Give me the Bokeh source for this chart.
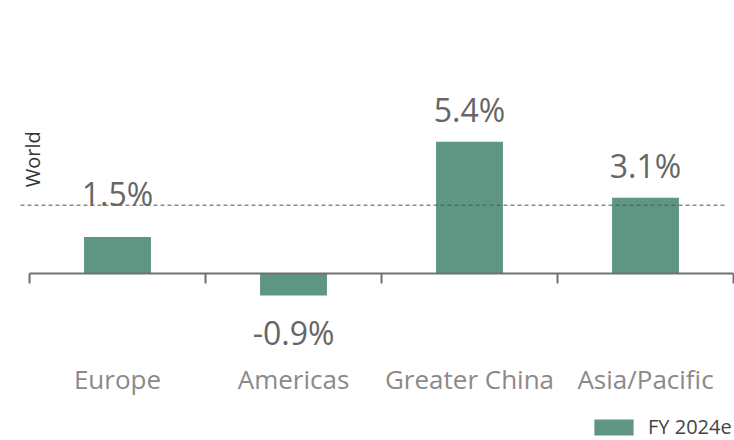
import math
from bokeh.plotting import figure
from bokeh.models import Range1d, ColumnDataSource, Legend, LegendItem
from bokeh.core.properties import value
from bokeh.embed import file_html
from bokeh.resources import INLINE

# ---- data ----
categories = ["Europe", "Americas", "Greater China", "Asia/Pacific"]
growth = [1.5, -0.9, 5.4, 3.1]
world = 2.8
series_name = "FY 2024e"

# ---- layout constants ----
W, H = 734, 440
LEFT = 29          # px where the first category starts
CAT_PX = 176       # px per category
BASE_PX = 273      # px of zero line
PX_PER = 24.4      # px per percentage point

bar_color = "#5E9683"
font = value("Open Sans")

n = len(categories)
x_lo = -LEFT / CAT_PX
x_hi = n + (W - LEFT - CAT_PX * n) / CAT_PX
y_hi = BASE_PX / PX_PER
y_lo = -(H - BASE_PX) / PX_PER

p = figure(width=W, height=H, output_backend="svg", toolbar_location=None,
           x_range=Range1d(x_lo, x_hi), y_range=Range1d(y_lo, y_hi),
           min_border=0, min_border_left=0, min_border_right=0,
           min_border_top=0, min_border_bottom=0)
p.axis.visible = False
p.grid.visible = False
p.outline_line_color = None
p.background_fill_color = "white"

xs = [i + 0.5 for i in range(n)]

# value-label anchors (above world line if the bar is below it)
lab_y, lab_off = [], []
for v in growth:
    if v >= 0:
        if v < world:
            lab_y.append(world); lab_off.append(-12)
        else:
            lab_y.append(v); lab_off.append(-32)
    else:
        lab_y.append(v); lab_off.append(37)

src = ColumnDataSource(dict(x=xs, top=growth, cat=categories,
                            lab=[f"{v:.1f}%" for v in growth],
                            ly=lab_y, loff=lab_off, zero=[0] * n))

bars = p.vbar(x="x", top="top", bottom=0, width=0.38, source=src,
              fill_color=bar_color, line_color=None)

# world dashed line
p.segment(x0=[x_lo + 20 / CAT_PX], x1=[n - 8 / CAT_PX], y0=[world], y1=[world],
          line_color="#555555", line_width=1, line_dash="4 3")

# baseline + ticks
p.segment(x0=[0], x1=[n], y0=[0], y1=[0], line_color="#707070", line_width=2)
tick_len = 10 / PX_PER
p.segment(x0=list(range(n + 1)), x1=list(range(n + 1)),
          y0=[0] * (n + 1), y1=[-tick_len] * (n + 1),
          line_color="#707070", line_width=2)

p.text(x="x", y="ly", text="lab", source=src, y_offset="loff",
       text_align="center", text_baseline="middle",
       text_font=font, text_font_size="32px", text_color="#666666")

# category labels
p.text(x="x", y="zero", text="cat", source=src, y_offset=105,
       text_align="center", text_baseline="middle",
       text_font=font, text_font_size="26px", text_color="#8A8A8A")

# World label (rotated)
p.text(x=[0], y=[world], text=["World"], x_offset=16, y_offset=-18,
       angle=math.pi / 2, text_align="left", text_baseline="bottom",
       text_font=font, text_font_size="20px", text_color="#333333")

legend = Legend(items=[LegendItem(label=series_name, renderers=[bars])],
                location=(589, 0), orientation="horizontal",
                glyph_width=49, glyph_height=20, label_standoff=10,
                padding=0, margin=0, border_line_alpha=0,
                background_fill_alpha=0,
                label_text_font="Open Sans", label_text_font_size="20px",
                label_text_color="#444444")
p.add_layout(legend)

open("out.html", "w").write(file_html(p, INLINE))
